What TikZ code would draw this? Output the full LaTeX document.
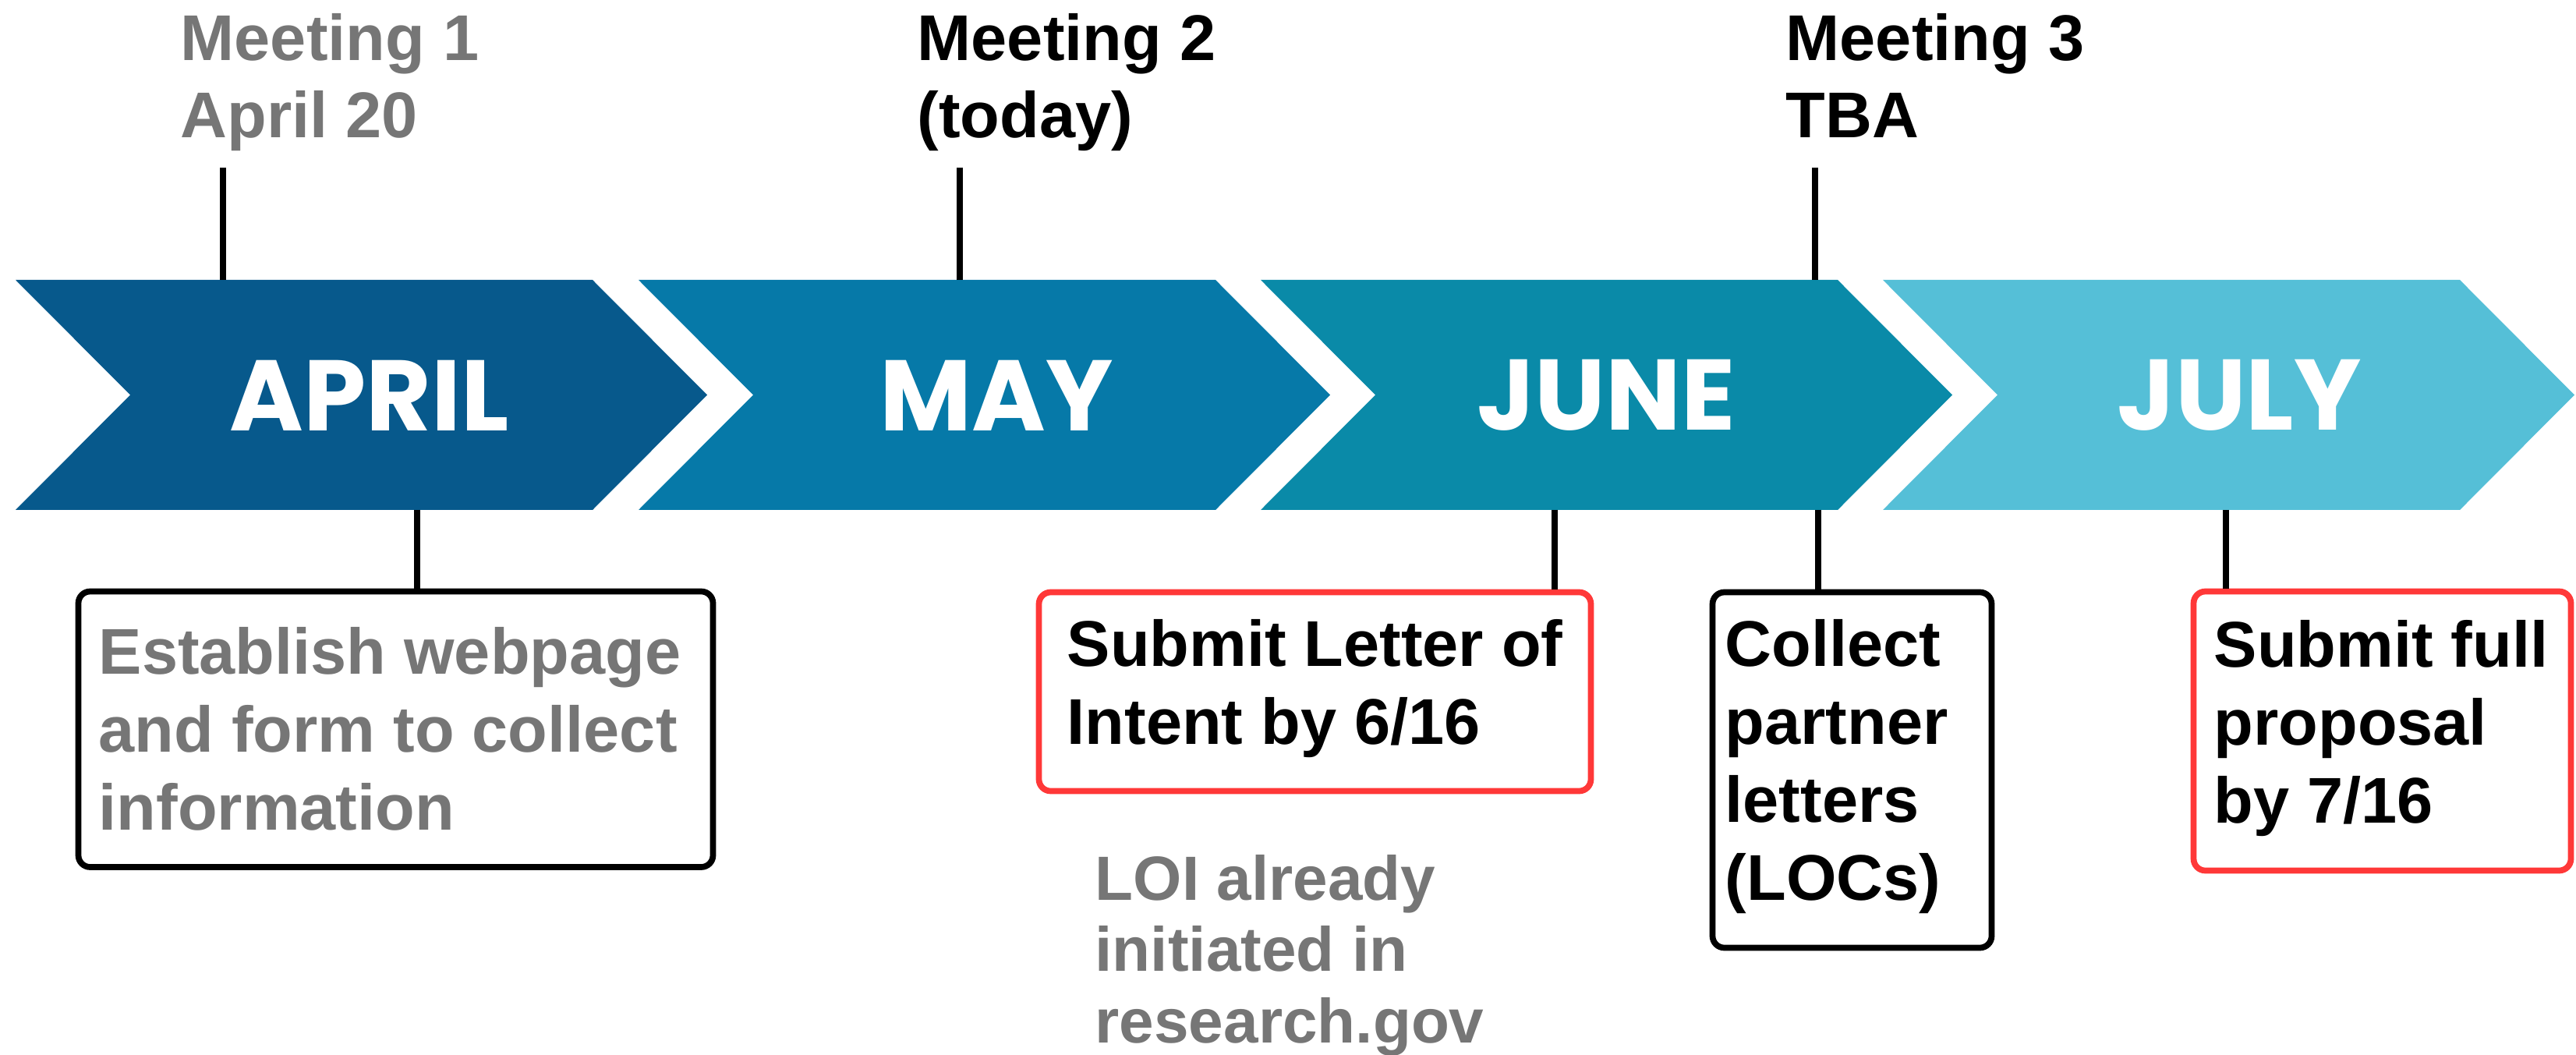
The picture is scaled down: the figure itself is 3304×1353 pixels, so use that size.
\documentclass[tikz,border=0pt]{standalone}
\usepackage{fontspec}
\setmainfont{Liberation Sans}
\newfontfamily\monthfont{Poppins}
\definecolor{capr}{HTML}{07598C}
\definecolor{cmay}{HTML}{0679A8}
\definecolor{cjun}{HTML}{0A8AA8}
\definecolor{cjul}{HTML}{55BFD7}
\definecolor{greytxt}{HTML}{767676}
\definecolor{redline}{HTML}{FF3838}
\begin{document}
\begin{tikzpicture}[x=0.1mm,y=-0.1mm,
  month/.style={font=\monthfont\bfseries\fontsize{36.6}{40}\selectfont, text=white, inner sep=0pt},
  body/.style={font=\bfseries\fontsize{23.6}{28.45}\selectfont, align=left, inner sep=0pt, anchor=base west},
  note/.style={font=\bfseries\fontsize{22.8}{25.9}\selectfont, align=left, inner sep=0pt, anchor=base west, text=greytxt},
  taskbox/.style={draw, line width=2.2pt, rounded corners=4.3pt, inner sep=0pt, fill=none},
  conn/.style={draw=black, line width=2.1pt}
]
\useasboundingbox (0,0) rectangle (3304,1353);

% chevrons
\foreach \L/\c in {20/capr, 819/cmay, 1617/cjun, 2415/cjul}{
  \fill[\c] (\L,359) -- ++(740,0) -- ++(147,147.5) -- ++(-147,147.5) -- ++(-740,0) -- ++(147,-147.5) -- cycle;
}
\node[month] (apr) at (474,507) {APRIL};
\node[month] (may) at (1278,507) {MAY};
\node[month] (jun) at (2060,507) {JUNE};
\node[month] (jul) at (2872,507) {JULY};

% meeting labels (base anchor = last line baseline)
\node[body, text=greytxt] (m1) at (231,177) {Meeting 1\\April 20};
\node[body] (m2) at (1176,177) {Meeting 2\\(today)};
\node[body] (m3) at (2290,177) {Meeting 3\\TBA};

\coordinate (m1a) at (286,215); \coordinate (m1b) at (286,359);
\coordinate (m2a) at (1231,215); \coordinate (m2b) at (1231,359);
\coordinate (m3a) at (2328,215); \coordinate (m3b) at (2328,359);
\draw[conn] (m1a) -- (m1b);
\draw[conn] (m2a) -- (m2b);
\draw[conn] (m3a) -- (m3b);

% boxes
\node[taskbox, draw=black, minimum width=81.4mm, minimum height=35.35mm] (b1) at (507.5,935.25) {};
\node[taskbox, draw=redline, minimum width=70.8mm, minimum height=25.5mm] (b2) at (1686.5,887) {};
\node[taskbox, draw=black, minimum width=35.8mm, minimum height=45.6mm] (b3) at (2375.5,987.5) {};
\node[taskbox, draw=redline, minimum width=48.4mm, minimum height=35.8mm] (b4) at (3055.5,937.5) {};

\node[body, text=greytxt] (t1) at (126,1064) {Establish webpage\\and form to collect\\information};
\node[body] (t2) at (1368,954) {Submit Letter of\\Intent by 6/16};
\node[body] (t3) at (2212,1154) {Collect\\partner\\letters\\(LOCs)};
\node[body] (t4) at (2839,1055) {Submit full\\proposal\\by 7/16};
\node[note] (t5) at (1404,1337) {LOI already\\initiated in\\research.gov};

\coordinate (c1) at (535,654);
\coordinate (c2) at (1994,654);
\coordinate (c3) at (2332,654);
\coordinate (c4) at (2855,654);
\draw[conn] (c1) -- (c1 |- b1.north);
\draw[conn] (c2) -- (c2 |- b2.north);
\draw[conn] (c3) -- (c3 |- b3.north);
\draw[conn] (c4) -- (c4 |- b4.north);
\end{tikzpicture}
\end{document}
